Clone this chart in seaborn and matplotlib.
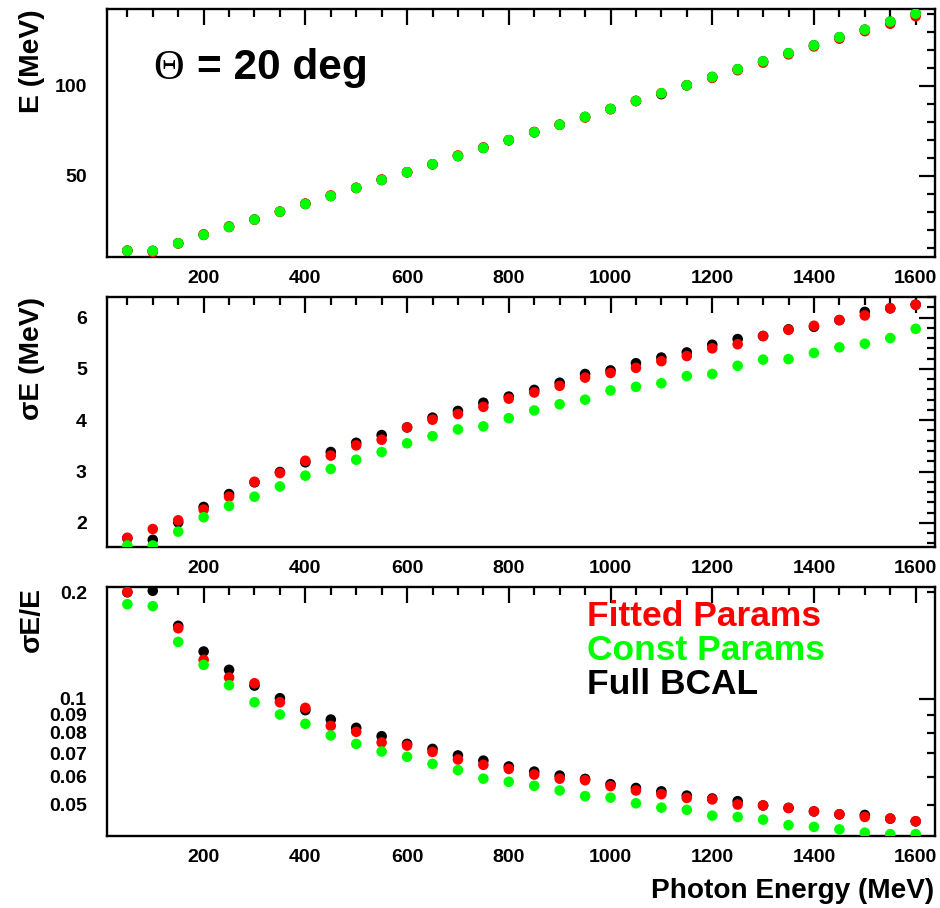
import matplotlib
matplotlib.use("Agg")
import matplotlib.pyplot as plt
from matplotlib.ticker import FixedLocator, FixedFormatter, MultipleLocator
import seaborn as sns
import pandas as pd

sns.set_style("white")
plt.rcParams["font.family"] = ["Liberation Sans", "DejaVu Sans"]
plt.rcParams["font.weight"] = "bold"
plt.rcParams["text.color"] = "black"
plt.rcParams["axes.labelcolor"] = "black"
plt.rcParams["xtick.color"] = "black"
plt.rcParams["ytick.color"] = "black"
plt.rcParams["axes.edgecolor"] = "black"

# Photon energies (MeV)
energy = [50, 100, 150, 200, 250, 300, 350, 400, 450, 500, 550, 600, 650, 700, 750, 800,
          850, 900, 950, 1000, 1050, 1100, 1150, 1200, 1250, 1300, 1350, 1400, 1450, 1500, 1550, 1600]

# Reconstructed energy E (MeV)
e_full = [8.3, 8.2, 12.4, 17.1, 21.5, 25.6, 30.0, 34.3, 38.7, 43.2, 47.6, 51.9, 56.3, 60.9, 65.4, 69.7,
          74.1, 78.3, 82.6, 87.0, 91.5, 95.3, 100.2, 104.8, 109.1, 113.5, 118.0, 122.4, 126.9, 131.1, 135.6, 140.0]
e_fitted = [8.3, 7.6, 12.4, 17.4, 21.8, 25.6, 30.0, 34.5, 39.0, 43.2, 47.9, 51.9, 56.3, 61.2, 65.7, 69.7,
            74.3, 78.3, 82.3, 87.0, 91.5, 95.8, 100.2, 104.3, 108.6, 112.8, 117.4, 121.8, 126.1, 130.3, 134.4, 138.6]
e_const = [8.3, 8.2, 12.4, 17.1, 21.5, 25.6, 30.0, 34.3, 38.7, 43.2, 47.6, 51.9, 56.3, 60.9, 65.4, 69.7,
           74.1, 78.3, 82.6, 87.0, 91.5, 95.8, 100.2, 104.8, 109.1, 113.5, 118.0, 122.4, 126.9, 131.1, 135.6, 140.0]

# Energy resolution sigma_E (MeV)
s_full = [1.70, 1.67, 2.01, 2.31, 2.56, 2.79, 2.99, 3.18, 3.38, 3.56, 3.71, 3.86, 4.05, 4.18, 4.34, 4.46,
          4.59, 4.73, 4.90, 4.97, 5.11, 5.22, 5.32, 5.47, 5.58, 5.64, 5.77, 5.82, 5.95, 6.11, 6.18, 6.25]
s_fitted = [1.71, 1.88, 2.05, 2.26, 2.51, 2.80, 2.97, 3.21, 3.31, 3.51, 3.62, 3.86, 4.01, 4.12, 4.26, 4.42,
            4.54, 4.67, 4.83, 4.92, 5.02, 5.15, 5.25, 5.40, 5.48, 5.64, 5.76, 5.84, 5.95, 6.04, 6.18, 6.25]
s_const = [1.56, 1.56, 1.83, 2.11, 2.33, 2.51, 2.71, 2.92, 3.05, 3.23, 3.38, 3.55, 3.69, 3.82, 3.88, 4.04,
           4.19, 4.31, 4.40, 4.58, 4.65, 4.72, 4.86, 4.90, 5.06, 5.18, 5.19, 5.31, 5.42, 5.49, 5.60, 5.78]

# Relative resolution sigma_E / E
r_full = [0.200, 0.202, 0.1607, 0.1359, 0.1206, 0.1088, 0.1002, 0.0927, 0.0872, 0.0826, 0.0782, 0.0744,
          0.0720, 0.0690, 0.0667, 0.0642, 0.0621, 0.0605, 0.0592, 0.0572, 0.0558, 0.0546, 0.0531, 0.0521,
          0.0512, 0.0498, 0.0490, 0.0479, 0.0470, 0.0468, 0.0457, 0.0449]
r_fitted = [0.2005, 0.247, 0.1582, 0.1287, 0.1147, 0.1105, 0.0976, 0.0941, 0.0837, 0.0805, 0.0751, 0.0736,
            0.0706, 0.0672, 0.0649, 0.0632, 0.0609, 0.0593, 0.0587, 0.0565, 0.0549, 0.0536, 0.0523, 0.0518,
            0.0501, 0.0498, 0.0490, 0.0479, 0.0470, 0.0462, 0.0457, 0.0449]
r_const = [0.185, 0.1827, 0.1447, 0.1246, 0.1091, 0.0976, 0.0901, 0.0848, 0.0786, 0.0744, 0.0708, 0.0684,
           0.0653, 0.0627, 0.0593, 0.0581, 0.0566, 0.0549, 0.0529, 0.0524, 0.0505, 0.0491, 0.0484, 0.0466,
           0.0462, 0.0454, 0.0438, 0.0433, 0.0426, 0.0417, 0.0413, 0.0413]

series_names = ["Full BCAL", "Fitted Params", "Const Params"]
series_colors = {"Full BCAL": "#000000", "Fitted Params": "#ff0000", "Const Params": "#00ff00"}
legend_order = ["Fitted Params", "Const Params", "Full BCAL"]

fig = plt.figure(figsize=(9.4, 9.08), dpi=100)
left, width = 107 / 940, 828 / 940
ax1 = fig.add_axes([left, 1 - 257 / 908, width, 248 / 908])
ax2 = fig.add_axes([left, 1 - 547 / 908, width, 250 / 908])
ax3 = fig.add_axes([left, 1 - 836 / 908, width, 249 / 908])

panels = [
    (ax1, [e_full, e_fitted, e_const], "E (MeV)"),
    (ax2, [s_full, s_fitted, s_const], "σE (MeV)"),
    (ax3, [r_full, r_fitted, r_const], "σE/E"),
]

for ax, values, ylabel in panels:
    frames = []
    for name, vals in zip(series_names, values):
        frames.append(pd.DataFrame({"energy": energy, "value": vals, "series": name}))
    df = pd.concat(frames, ignore_index=True)
    for name in series_names:
        sub = df[df["series"] == name]
        sns.scatterplot(data=sub, x="energy", y="value", color=series_colors[name],
                        s=58, linewidth=0, edgecolor="none", ax=ax, legend=False, zorder=3)
    ax.set_xlim(10, 1638)
    ax.set_xlabel("")
    ax.set_ylabel(ylabel, fontsize=20.3, fontweight="bold", loc="top", color="black")
    ax.yaxis.set_label_coords(-0.075, 1.0)
    for sp in ax.spines.values():
        sp.set_linewidth(1.7)
        sp.set_color("black")
    ax.xaxis.set_major_locator(MultipleLocator(200))
    ax.xaxis.set_minor_locator(MultipleLocator(50))
    ax.tick_params(which="both", direction="in", top=True, right=True, width=1.6, color="black",
                   labelcolor="black", labelsize=14)
    ax.tick_params(which="major", length=11.5)
    ax.tick_params(which="minor", length=5.8)
    ax.tick_params(axis="x", which="both", pad=9.5)
    ax.tick_params(axis="y", which="both", pad=14.5)

# Top panel: energy
ax1.set_ylim(4.8, 142.6)
ax1.yaxis.set_major_locator(FixedLocator([50, 100]))
ax1.yaxis.set_minor_locator(MultipleLocator(10))

# Middle panel: sigma E
ax2.set_ylim(1.53, 6.40)
ax2.yaxis.set_major_locator(MultipleLocator(1))
ax2.yaxis.set_minor_locator(MultipleLocator(0.2))

# Bottom panel: sigma E / E on a log scale
ax3.set_yscale("log")
ax3.set_ylim(0.0408, 0.207)
ax3.yaxis.set_major_locator(FixedLocator([0.1]))
ax3.yaxis.set_major_formatter(FixedFormatter(["0.1"]))
minor_vals = [0.05, 0.06, 0.07, 0.08, 0.09, 0.2]
ax3.yaxis.set_minor_locator(FixedLocator(minor_vals))
ax3.yaxis.set_minor_formatter(FixedFormatter(["0.05", "0.06", "0.07", "0.08", "0.09", "0.2"]))
ax3.tick_params(axis="y", which="minor", labelsize=14, pad=14.5, labelcolor="black")

for ax in (ax1, ax2, ax3):
    for lab in ax.get_xticklabels() + ax.get_yticklabels() + ax.get_yticklabels(minor=True):
        lab.set_fontweight("bold")

# Angle annotation
fig.text(153 / 940, 1 - 79 / 908, "Θ", fontsize=30.5, fontweight="normal",
         family=["Liberation Serif", "DejaVu Serif"], ha="left", va="baseline")
fig.text(197 / 940, 1 - 79 / 908, "= 20 deg", fontsize=30.5, fontweight="bold",
         ha="left", va="baseline")

# Series labels
for i, name in enumerate(legend_order):
    fig.text(587 / 940, 1 - (626 + 34 * i) / 908, name, fontsize=25.5, fontweight="bold",
             color=series_colors[name], ha="left", va="baseline")

fig.text(934 / 940, 1 - 898 / 908, "Photon Energy (MeV)", fontsize=20.2, fontweight="bold",
         ha="right", va="baseline")

fig.savefig("out.png", dpi=100)
